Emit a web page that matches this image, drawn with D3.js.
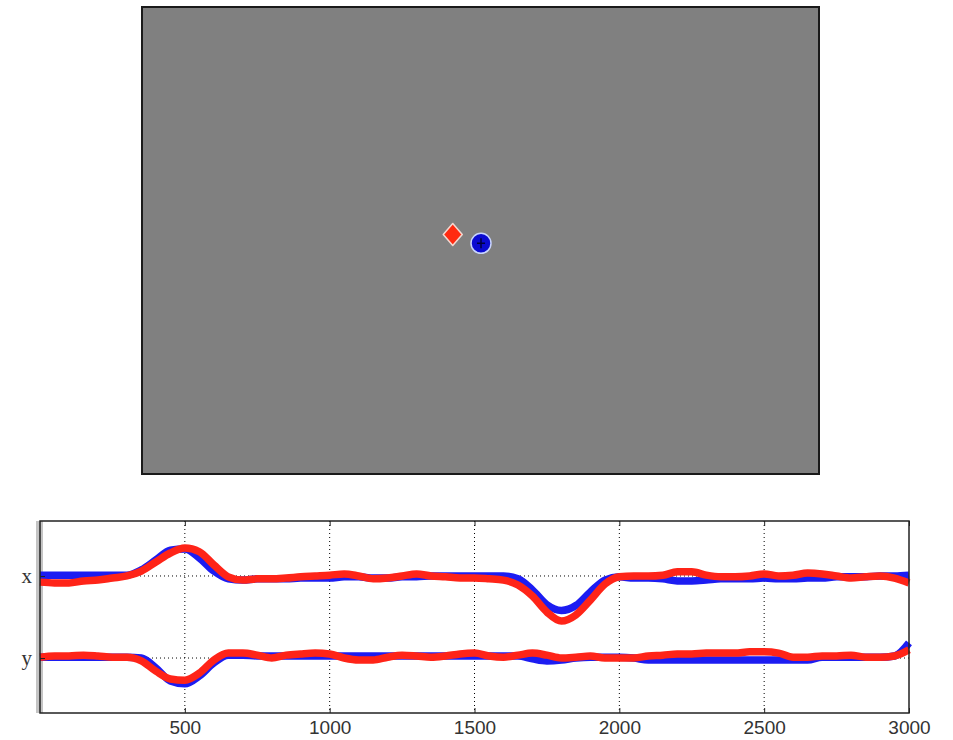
<!DOCTYPE html>
<html>
<head>
<meta charset="utf-8">
<script src="https://cdn.jsdelivr.net/npm/d3@7"></script>
<style>
  html, body { margin: 0; padding: 0; background: #fff; }
  svg { display: block; }
  .tick text { fill: #333; }
</style>
</head>
<body>
<div id="chart"></div>
<script>
// ---- data ----
// top panel: target (red) and gaze (blue) positions, normalised screen coords
const targetPos = [-0.082, 0.026];
const gazePos = [0.0015, -0.012];

// bottom panel: time (ms) and eye/target traces, deviation from each channel's baseline
const times = d3.range(0, 3001, 50);
const xBlue = [
  0.02, 0.02, 0.02, 0.02, 0.02, 0.02, 0.02, 0.15, 0.39, 0.63, 0.66, 0.44, 0.12, -0.07, -0.10, -0.07,
  -0.07, -0.07, -0.05, -0.05, -0.05, -0.02, -0.02, -0.05, -0.05, -0.02, -0.02, 0.0, 0.0, 0.0,
  0.0, 0.0, 0.0, -0.07, -0.34, -0.70, -0.84, -0.72, -0.39, -0.10, -0.02, -0.05, -0.05, -0.07, -0.12,
  -0.12, -0.10, -0.07, -0.07, -0.07, -0.05, -0.07, -0.07, -0.05, -0.05, -0.02, -0.02, -0.02, 0.0,
  0.0, 0.02
];
const xRed = [
  -0.15, -0.17, -0.17, -0.12, -0.10, -0.05, 0.0, 0.12, 0.34, 0.56, 0.68, 0.59, 0.27, -0.02, -0.10,
  -0.07, -0.07, -0.05, -0.02, 0.0, 0.02, 0.05, 0.0, -0.07, -0.05, 0.0, 0.05, 0.0, -0.02, -0.05,
  -0.05, -0.07, -0.10, -0.22, -0.49, -0.88, -1.10, -0.95, -0.59, -0.20, -0.02, 0.0, 0.0, 0.02, 0.10,
  0.10, 0.02, -0.02, -0.02, 0.0, 0.05, 0.0, 0.02, 0.07, 0.05, 0.0, -0.05, -0.02, 0.0, -0.05, -0.17
];
const yBlue = [
  0.02, 0.02, 0.02, 0.02, 0.02, 0.02, 0.02, 0.0, -0.24, -0.56, -0.63, -0.44, -0.12, 0.07, 0.07,
  0.05, 0.05, 0.05, 0.05, 0.05, 0.05, 0.05, 0.05, 0.05, 0.05, 0.05, 0.05, 0.05, 0.05, 0.05, 0.05,
  0.05, 0.05, 0.05, -0.02, -0.07, -0.05, 0.0, 0.02, 0.02, 0.02, 0.0, -0.05, -0.05, -0.05, -0.05,
  -0.05, -0.05, -0.05, -0.05, -0.05, -0.05, -0.05, -0.05, 0.02, 0.02, 0.02, 0.02, 0.02, 0.05, 0.37
];
const yRed = [
  0.02, 0.05, 0.05, 0.07, 0.05, 0.02, 0.02, -0.07, -0.32, -0.51, -0.54, -0.37, -0.05, 0.12, 0.12,
  0.07, 0.0, 0.07, 0.10, 0.12, 0.10, 0.0, -0.05, -0.05, 0.02, 0.07, 0.05, 0.02, 0.05, 0.10, 0.12,
  0.05, 0.02, 0.07, 0.12, 0.07, 0.0, 0.02, 0.05, 0.0, 0.0, 0.0, 0.05, 0.07, 0.10, 0.10, 0.12, 0.12,
  0.12, 0.15, 0.15, 0.12, 0.02, 0.02, 0.05, 0.05, 0.07, 0.02, 0.02, 0.05, 0.20
];

const xTicks = [500, 1000, 1500, 2000, 2500, 3000];
const channelTicks = [1, -1];
const channelNames = { "1": "x", "-1": "y" };

// ---- layout ----
const W = 953, H = 740;
const svg = d3.select("#chart").append("svg")
  .attr("width", W).attr("height", H);

// ===== top panel: screen =====
const sx = d3.scaleLinear().domain([-1, 1]).range([142, 819]);
const sy = d3.scaleLinear().domain([-1, 1]).range([474, 7]);

svg.append("rect")
  .attr("x", sx(-1)).attr("y", sy(1))
  .attr("width", sx(1) - sx(-1)).attr("height", sy(-1) - sy(1))
  .attr("fill", "#808080")
  .attr("stroke", "#1a1a1a")
  .attr("stroke-width", 2);

// red target (diamond)
function diamond(cx, cy, hw, hh) {
  const p = d3.path();
  p.moveTo(cx, cy - hh);
  p.lineTo(cx + hw, cy);
  p.lineTo(cx, cy + hh);
  p.lineTo(cx - hw, cy);
  p.closePath();
  return p.toString();
}
svg.append("path")
  .attr("d", diamond(sx(targetPos[0]), sy(targetPos[1]), 9.5, 11))
  .attr("fill", "#ff2a10")
  .attr("stroke", "#f4d8d0")
  .attr("stroke-width", 1.5)
  .attr("stroke-linejoin", "round");

// blue gaze (circle)
const gx = sx(gazePos[0]), gy = sy(gazePos[1]);
svg.append("circle")
  .attr("cx", gx).attr("cy", gy).attr("r", 10)
  .attr("fill", "#0a0ad0")
  .attr("stroke", "#c8d4ff")
  .attr("stroke-width", 1.5);
svg.append("path")
  .attr("d", `M${gx - 4},${gy}H${gx + 4}M${gx},${gy - 5}V${gy + 5}`)
  .attr("stroke", "#000040")
  .attr("stroke-width", 1.5);

// ===== bottom panel: traces =====
const x = d3.scaleLinear().domain([0, 3000]).range([40, 909]);
const y = d3.scaleLinear().domain([-2.34, 2.34]).range([713, 521]);

// left gray edge
svg.append("rect")
  .attr("x", 36).attr("y", y(2.34))
  .attr("width", 7).attr("height", y(-2.34) - y(2.34))
  .attr("fill", "#c4c4c4");

const grid = svg.append("g")
  .attr("stroke", "#000")
  .attr("stroke-width", 1)
  .attr("stroke-dasharray", "1,3");
grid.selectAll("line.v")
  .data(xTicks.filter(d => d < 3000))
  .join("line")
  .attr("class", "v")
  .attr("x1", d => x(d)).attr("x2", d => x(d))
  .attr("y1", y(2.34)).attr("y2", y(-2.34));
grid.selectAll("line.h")
  .data(channelTicks)
  .join("line")
  .attr("class", "h")
  .attr("x1", x(0)).attr("x2", x(3000))
  .attr("y1", d => y(d)).attr("y2", d => y(d));

// traces
const line = d3.line()
  .x(d => x(d[0]))
  .y(d => y(d[1]))
  .curve(d3.curveMonotoneX);

const traces = [
  { vals: xBlue, off: 1, color: "#1c1cf2" },
  { vals: yBlue, off: -1, color: "#1c1cf2" },
  { vals: xRed, off: 1, color: "#ff2418" },
  { vals: yRed, off: -1, color: "#ff2418" }
];
svg.append("g")
  .selectAll("path")
  .data(traces)
  .join("path")
  .attr("d", t => line(times.map((tm, i) => [tm, t.vals[i] + t.off])))
  .attr("fill", "none")
  .attr("stroke", t => t.color)
  .attr("stroke-width", 7.5)
  .attr("stroke-linejoin", "round")
  .attr("stroke-linecap", "butt");

// axes
const xAxis = d3.axisBottom(x)
  .tickValues(xTicks)
  .tickSize(-5)
  .tickPadding(8)
  .tickFormat(d3.format("d"));
const gxAxis = svg.append("g")
  .attr("transform", `translate(0,${y(-2.34)})`)
  .call(xAxis);
gxAxis.select(".domain").remove();
gxAxis.selectAll("text")
  .attr("font-family", "'Liberation Sans', Arial, sans-serif")
  .attr("font-size", 19);
gxAxis.selectAll("line").attr("stroke", "#222");

const topAxis = svg.append("g")
  .attr("transform", `translate(0,${y(2.34)})`)
  .call(d3.axisTop(x).tickValues(xTicks).tickSize(-5).tickFormat(""));
topAxis.select(".domain").remove();
topAxis.selectAll("line").attr("stroke", "#222");

const yAxis = d3.axisLeft(y)
  .tickValues(channelTicks)
  .tickSize(-5)
  .tickPadding(8)
  .tickFormat(d => channelNames[d]);
const gyAxis = svg.append("g")
  .attr("transform", `translate(${x(0)},0)`)
  .call(yAxis);
gyAxis.select(".domain").remove();
gyAxis.selectAll("text")
  .attr("font-family", "'Liberation Serif', 'Times New Roman', serif")
  .attr("font-size", 21)
  .attr("fill", "#444");
gyAxis.selectAll("line").attr("stroke", "#222");

// frame
svg.append("rect")
  .attr("x", x(0)).attr("y", y(2.34))
  .attr("width", x(3000) - x(0)).attr("height", y(-2.34) - y(2.34))
  .attr("fill", "none")
  .attr("stroke", "#222")
  .attr("stroke-width", 1.5);
</script>
</body>
</html>
